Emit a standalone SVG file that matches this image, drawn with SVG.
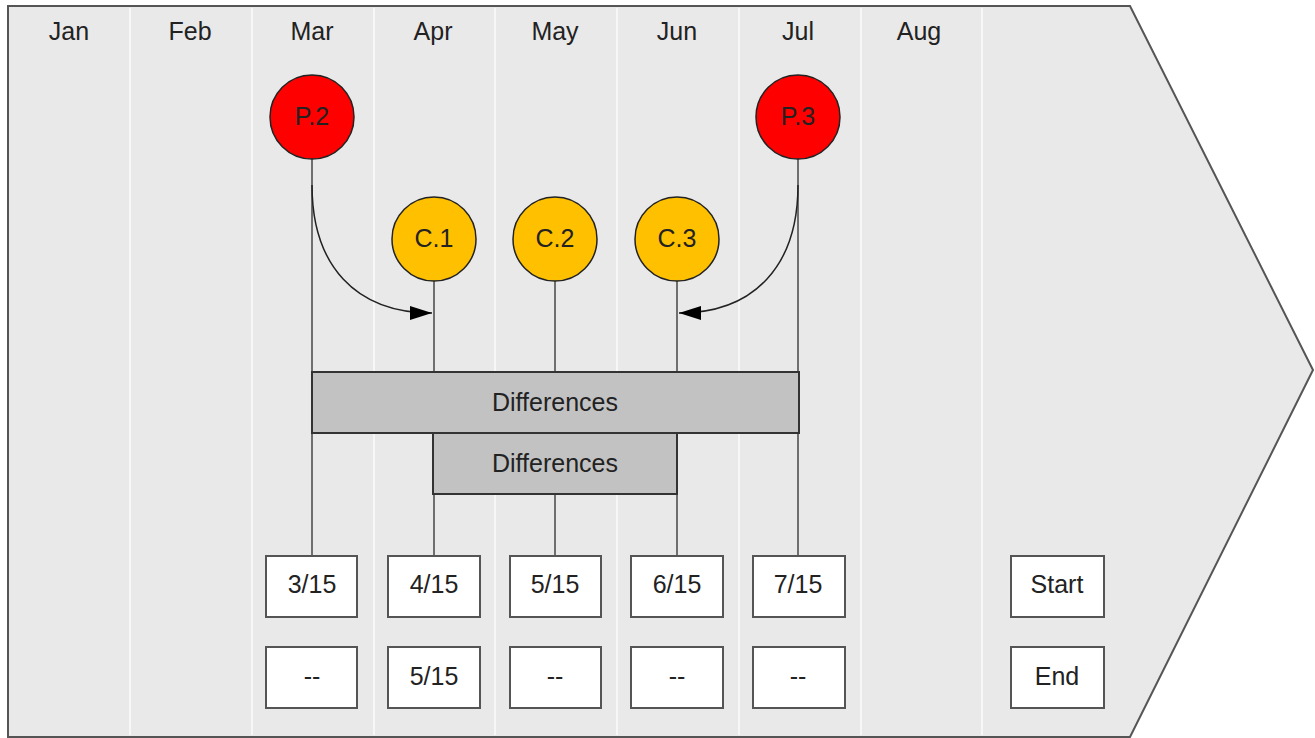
<svg xmlns="http://www.w3.org/2000/svg" width="1315" height="738" viewBox="0 0 1315 738">
<defs>
<style>
text{font-family:"Liberation Sans",Arial,sans-serif;font-size:25px;fill:#222;text-anchor:middle}
.div{stroke:#f7f7f7;stroke-width:2}
.ln{stroke:#6f6f6f;stroke-width:2;fill:none}
.cv{stroke:#222;stroke-width:1.5;fill:none}
.box{fill:#fff;stroke:#555;stroke-width:2}
.diff{fill:#c2c2c2;stroke:#333;stroke-width:2}
.p{fill:#ff0000;stroke:#222;stroke-width:1.5}
.c{fill:#ffc000;stroke:#222;stroke-width:1.5}
</style>
<marker id="ah" viewBox="0 0 22 14" refX="22" refY="7" markerWidth="22" markerHeight="14" markerUnits="userSpaceOnUse" orient="auto">
<path d="M0,0 L22,7 L0,14 z" fill="#000"/>
</marker>
</defs>
<g id="background">
<polygon points="8,6 1130,6 1313,370 1130,737 8,737" fill="#e9e9e9" stroke="#555" stroke-width="2"/>
<line class="div" x1="130" y1="8" x2="130" y2="735"/>
<line class="div" x1="252" y1="8" x2="252" y2="735"/>
<line class="div" x1="374" y1="8" x2="374" y2="735"/>
<line class="div" x1="495" y1="8" x2="495" y2="735"/>
<line class="div" x1="617" y1="8" x2="617" y2="735"/>
<line class="div" x1="739" y1="8" x2="739" y2="735"/>
<line class="div" x1="861" y1="8" x2="861" y2="735"/>
<line class="div" x1="982" y1="8" x2="982" y2="735"/>
<text x="69" y="40">Jan</text>
<text x="190" y="40">Feb</text>
<text x="312" y="40">Mar</text>
<text x="433" y="40">Apr</text>
<text x="555" y="40">May</text>
<text x="677" y="40">Jun</text>
<text x="798" y="40">Jul</text>
<text x="919" y="40">Aug</text>
</g>
<g id="connectors">
<line class="ln" x1="312" y1="159" x2="312" y2="556"/>
<line class="ln" x1="434" y1="281" x2="434" y2="556"/>
<line class="ln" x1="555" y1="281" x2="555" y2="372"/>
<line class="ln" x1="555" y1="494" x2="555" y2="556"/>
<line class="ln" x1="677" y1="281" x2="677" y2="556"/>
<line class="ln" x1="798" y1="159" x2="798" y2="556"/>
<path class="cv" d="M312,185 C312,265 355,313 432,313" marker-end="url(#ah)"/>
<path class="cv" d="M798,185 C798,265 755,313 679,313" marker-end="url(#ah)"/>
</g>
<g id="P2"><circle class="p" cx="312" cy="117" r="42"/><text x="312" y="125">P.2</text></g>
<g id="P3"><circle class="p" cx="798" cy="117" r="42"/><text x="798" y="125">P.3</text></g>
<g id="C1"><circle class="c" cx="434" cy="239" r="42"/><text x="434" y="247">C.1</text></g>
<g id="C2"><circle class="c" cx="555" cy="239" r="42"/><text x="555" y="247">C.2</text></g>
<g id="C3"><circle class="c" cx="677" cy="239" r="42"/><text x="677" y="247">C.3</text></g>
<g id="diff1"><rect class="diff" x="312" y="372" width="487" height="61"/><text x="555" y="411">Differences</text></g>
<g id="diff2"><rect class="diff" x="433" y="433" width="244" height="61"/><text x="555" y="472">Differences</text></g>
<g id="d315"><rect class="box" x="266" y="556" width="91" height="61"/><text x="312" y="593">3/15</text></g>
<g id="d415"><rect class="box" x="388" y="556" width="92" height="61"/><text x="434" y="593">4/15</text></g>
<g id="d515"><rect class="box" x="510" y="556" width="91" height="61"/><text x="555" y="593">5/15</text></g>
<g id="d615"><rect class="box" x="631" y="556" width="92" height="61"/><text x="677" y="593">6/15</text></g>
<g id="d715"><rect class="box" x="753" y="556" width="92" height="61"/><text x="798" y="593">7/15</text></g>
<g id="e1"><rect class="box" x="266" y="647" width="91" height="61"/><text x="312" y="685">--</text></g>
<g id="e2"><rect class="box" x="388" y="647" width="92" height="61"/><text x="434" y="685">5/15</text></g>
<g id="e3"><rect class="box" x="510" y="647" width="91" height="61"/><text x="555" y="685">--</text></g>
<g id="e4"><rect class="box" x="631" y="647" width="92" height="61"/><text x="677" y="685">--</text></g>
<g id="e5"><rect class="box" x="753" y="647" width="92" height="61"/><text x="798" y="685">--</text></g>
<g id="start"><rect class="box" x="1011" y="556" width="93" height="61"/><text x="1057" y="593">Start</text></g>
<g id="end"><rect class="box" x="1011" y="647" width="93" height="61"/><text x="1057" y="685">End</text></g>
</svg>
